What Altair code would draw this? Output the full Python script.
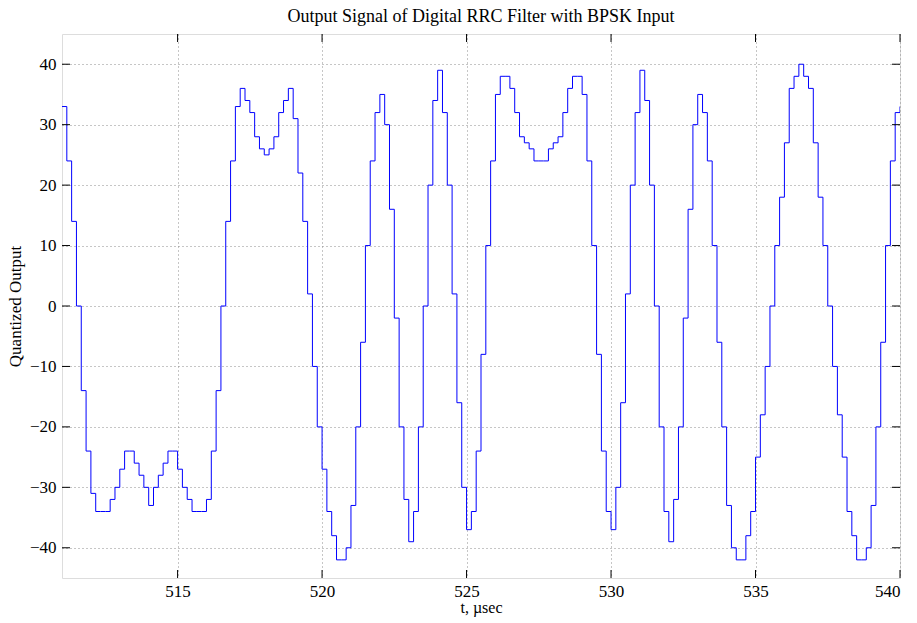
import altair as alt
import pandas as pd

# Sampled filter output: 6 samples per microsecond, starting at t = 511 us
T_START = 511.0
SAMPLES_PER_US = 6

quantized = [
    33,
    24, 14, 0, -14, -24, -31, -34, -34, -34, -32, -30, -27, -24, -24, -26, -28, -30, -33, -30, -28, -26,
    -24, -24, -27, -30, -32, -34, -34, -34, -32, -24, -14, 0, 14, 24, 33, 36, 34, 32, 28, 26, 25, 26,
    28, 32, 34, 36, 31, 22, 14, 2, -10, -20, -27, -34, -38, -42, -42, -40, -33, -20, -6, 10, 24, 32,
    35, 30, 16, -2, -20, -32, -39, -34, -20, 0, 20, 34, 39, 32, 20, 2, -16, -30, -37, -34, -24,
    -8, 10, 24, 35, 38, 38, 36, 32, 28, 27, 26, 24, 24, 24, 26, 27, 28, 32, 36, 38, 38, 35,
    24, 10, -8, -24, -34, -37, -30, -16, 2, 20, 32, 39, 34, 20, 0, -20, -34, -39, -32, -20, -2, 16,
    30, 35, 32, 24, 10, -6, -20, -33, -40, -42, -42, -38, -34, -25, -18, -10, 0, 10, 18, 27, 36, 38,
    40, 38, 36, 27, 18, 10, 0, -10, -18, -25, -34, -38, -42, -42, -40, -33, -20, -6, 10, 24, 32, 33,
]
sample_index = list(range(len(quantized)))

x_ticks = [515, 520, 525, 530, 535, 540]
y_ticks = [-40, -30, -20, -10, 0, 10, 20, 30, 40]
x_domain = [511, 540]
y_domain = [-45, 45]

W, H = 838, 544
TICK_LEN = 8
SERIF = "Liberation Serif"

signal = pd.DataFrame({
    "t": [T_START + k / SAMPLES_PER_US for k in sample_index],
    "y": quantized,
})
xt = pd.DataFrame({"v": x_ticks})
yt = pd.DataFrame({"v": y_ticks})

x_scale = alt.Scale(domain=x_domain, nice=False, zero=False)
y_scale = alt.Scale(domain=y_domain, nice=False, zero=False)

grid_style = dict(grid=True, gridColor="#8c8c8c", gridDash=[1, 3], gridWidth=1)

x_axis = alt.Axis(
    values=x_ticks, format="d", ticks=False, domain=False, **grid_style,
    labelFont=SERIF, labelFontSize=17, labelColor="black", labelPadding=5,
    title="t, µsec", titleFont=SERIF, titleFontSize=16, titleFontWeight="normal",
    titleColor="black", titlePadding=0,
)
y_axis = alt.Axis(
    values=y_ticks, format="d", ticks=False, domain=False, **grid_style,
    labelFont=SERIF, labelFontSize=17, labelColor="black", labelPadding=6,
    title="Quantized Output", titleFont=SERIF, titleFontSize=17, titleFontWeight="normal",
    titleColor="black", titlePadding=5,
)

line = alt.Chart(signal).mark_line(
    interpolate="step-after", color="#0000ff", strokeWidth=1, clip=True
).encode(
    x=alt.X("t:Q", scale=x_scale, axis=x_axis),
    y=alt.Y("y:Q", scale=y_scale, axis=y_axis),
)

# Inward tick marks on all four sides of the frame
tick_style = dict(color="black", strokeWidth=1)
x_ticks_bottom = alt.Chart(xt).mark_rule(**tick_style).encode(
    x=alt.X("v:Q", scale=x_scale), y=alt.value(H - TICK_LEN), y2=alt.value(H)
)
x_ticks_top = alt.Chart(xt).mark_rule(**tick_style).encode(
    x=alt.X("v:Q", scale=x_scale), y=alt.value(0), y2=alt.value(TICK_LEN)
)
y_ticks_left = alt.Chart(yt).mark_rule(**tick_style).encode(
    y=alt.Y("v:Q", scale=y_scale), x=alt.value(0), x2=alt.value(TICK_LEN)
)
y_ticks_right = alt.Chart(yt).mark_rule(**tick_style).encode(
    y=alt.Y("v:Q", scale=y_scale), x=alt.value(W - TICK_LEN), x2=alt.value(W)
)

chart = alt.layer(
    line, x_ticks_bottom, x_ticks_top, y_ticks_left, y_ticks_right
).properties(
    width=W,
    height=H,
    autosize=alt.AutoSizeParams(type="none"),
    padding={"left": 62, "top": 34, "right": 17, "bottom": 45},
    title=alt.TitleParams(
        "Output Signal of Digital RRC Filter with BPSK Input",
        font=SERIF, fontSize=18, fontWeight="normal", color="black", offset=8,
    ),
).configure_view(
    stroke="black", strokeWidth=1
).configure(background="white")

chart.save("out.html", embed_options={"renderer": "svg", "actions": False})
